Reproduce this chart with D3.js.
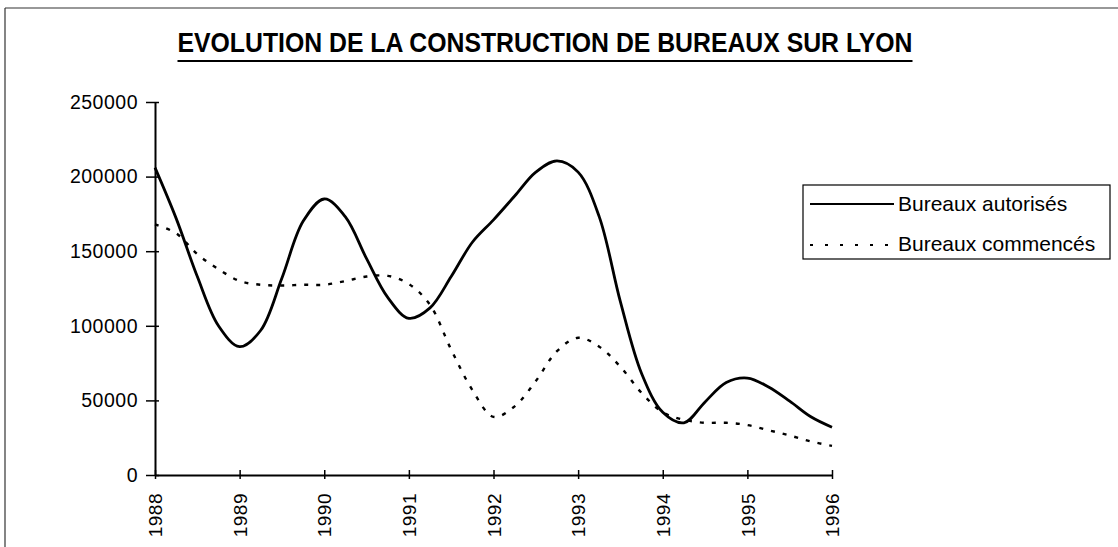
<!DOCTYPE html>
<html>
<head>
<meta charset="utf-8">
<script src="https://cdn.jsdelivr.net/npm/d3@7"></script>
<style>
  html, body { margin: 0; padding: 0; background: #fff; }
  svg { display: block; }
  text { font-family: "Liberation Sans", Arial, sans-serif; fill: #000; }
</style>
</head>
<body>
<svg id="chart" width="1118" height="547"></svg>
<script>
// ---- Data (quarterly readings, m² of offices) ----
const periods = [
  1988.00, 1988.25, 1988.50, 1988.75,
  1989.00, 1989.25, 1989.50, 1989.75,
  1990.00, 1990.25, 1990.50, 1990.75,
  1991.00, 1991.25, 1991.50, 1991.75,
  1992.00, 1992.25, 1992.50, 1992.75,
  1993.00, 1993.25, 1993.50, 1993.75,
  1994.00, 1994.25, 1994.50, 1994.75,
  1995.00, 1995.25, 1995.50, 1995.75,
  1996.00
];
const bureauxAutorises = [
  206000, 172000, 133000, 100000,
  86000, 97000, 132000, 170000,
  185000, 173000, 145000, 119000,
  105000, 112000, 133000, 156000,
  171000, 187000, 203000, 210500,
  203000, 173000, 116000, 68000,
  42000, 35000, 49000, 62000,
  65000, 59000, 49500, 39000,
  32000
];
const bureauxCommences = [
  168000, 162000, 148000, 138000,
  130000, 127500, 127000, 127500,
  127500, 130000, 133000, 133500,
  128000, 114000, 84000, 57000,
  39000, 46000, 63000, 83000,
  92000, 86000, 72500, 55000,
  42000, 37000, 35000, 35000,
  33500, 30000, 26500, 22500,
  19500
];
const seriesNames = ["Bureaux autorisés", "Bureaux commencés"];
const yearTicks = [1988, 1989, 1990, 1991, 1992, 1993, 1994, 1995, 1996];
const yTicks = [0, 50000, 100000, 150000, 200000, 250000];
const title = "EVOLUTION DE LA CONSTRUCTION DE BUREAUX SUR LYON";

// ---- Layout ----
const svg = d3.select("#chart");
const plot = { left: 155, right: 832, top: 102, bottom: 475 };

const x = d3.scaleLinear().domain([1988, 1996]).range([plot.left, plot.right]);
const y = d3.scaleLinear().domain([0, 250000]).range([plot.bottom, plot.top]);

// outer frame (left + top edges visible)
svg.append("line").attr("x1", 5).attr("y1", 8).attr("x2", 1118).attr("y2", 8)
  .attr("stroke", "#333").attr("stroke-width", 1.2);
svg.append("line").attr("x1", 5).attr("y1", 8).attr("x2", 5).attr("y2", 547)
  .attr("stroke", "#333").attr("stroke-width", 1.2);

// title
svg.append("text")
  .attr("x", 545).attr("y", 52)
  .attr("text-anchor", "middle")
  .attr("font-size", 27).attr("font-weight", "bold")
  .attr("textLength", 735).attr("lengthAdjust", "spacingAndGlyphs")
  .text(title);
svg.append("line")
  .attr("x1", 545 - 735 / 2).attr("x2", 545 + 735 / 2)
  .attr("y1", 61).attr("y2", 61)
  .attr("stroke", "#000").attr("stroke-width", 2.2);

// y axis
const yAxis = d3.axisLeft(y).tickValues(yTicks).tickFormat(d3.format("d"))
  .tickSizeInner(9).tickSizeOuter(0).tickPadding(8);
const gy = svg.append("g").attr("transform", `translate(${plot.left},0)`).call(yAxis);
gy.select(".domain").attr("stroke", "#000").attr("stroke-width", 2);
gy.selectAll(".tick line").attr("stroke", "#000").attr("stroke-width", 1.5)
  .attr("x1", 4);
gy.selectAll(".tick text").attr("font-size", 19.5).attr("letter-spacing", 0.5)
  .attr("font-family", "'Liberation Sans', Arial, sans-serif").attr("fill", "#000")
  .attr("x", -17);

// x axis
const xAxis = d3.axisBottom(x).tickValues(yearTicks).tickFormat(d3.format("d"))
  .tickSizeInner(4).tickSizeOuter(0);
const gx = svg.append("g").attr("transform", `translate(0,${plot.bottom})`).call(xAxis);
gx.select(".domain").attr("stroke", "#000").attr("stroke-width", 2);
gx.selectAll(".tick line").attr("stroke", "#000").attr("stroke-width", 1.5)
  .attr("y1", -5).attr("y2", 4);
gx.selectAll(".tick text")
  .attr("font-size", 19).attr("letter-spacing", 0.5)
  .attr("font-family", "'Liberation Sans', Arial, sans-serif").attr("fill", "#000")
  .attr("text-anchor", "end")
  .attr("transform", "rotate(-90)")
  .attr("x", -18).attr("y", 0).attr("dy", "0.35em");

// lines
const curve = d3.curveCatmullRom.alpha(0.5);
const lineGen = d3.line().x(d => x(d[0])).y(d => y(d[1])).curve(curve);
const solidData = periods.map((p, i) => [p, bureauxAutorises[i]]);
const dotData = periods.map((p, i) => [p, bureauxCommences[i]]);

svg.append("path").datum(dotData)
  .attr("d", lineGen).attr("fill", "none")
  .attr("stroke", "#000").attr("stroke-width", 2.4)
  .attr("stroke-dasharray", "4,8");
svg.append("path").datum(solidData)
  .attr("d", lineGen).attr("fill", "none")
  .attr("stroke", "#000").attr("stroke-width", 2.8)
  .attr("stroke-linejoin", "round");

// legend
const lg = svg.append("g");
lg.append("rect").attr("x", 803).attr("y", 185).attr("width", 307).attr("height", 74)
  .attr("fill", "#fff").attr("stroke", "#000").attr("stroke-width", 1.2);
lg.append("line").attr("x1", 810).attr("x2", 894).attr("y1", 204).attr("y2", 204)
  .attr("stroke", "#000").attr("stroke-width", 2.2);
lg.append("line").attr("x1", 810).attr("x2", 894).attr("y1", 245).attr("y2", 245)
  .attr("stroke", "#000").attr("stroke-width", 2.2).attr("stroke-dasharray", "3,12");
lg.append("text").attr("x", 898).attr("y", 211).attr("font-size", 21)
  .text(seriesNames[0]);
lg.append("text").attr("x", 898).attr("y", 251).attr("font-size", 21)
  .text(seriesNames[1]);
</script>
</body>
</html>
